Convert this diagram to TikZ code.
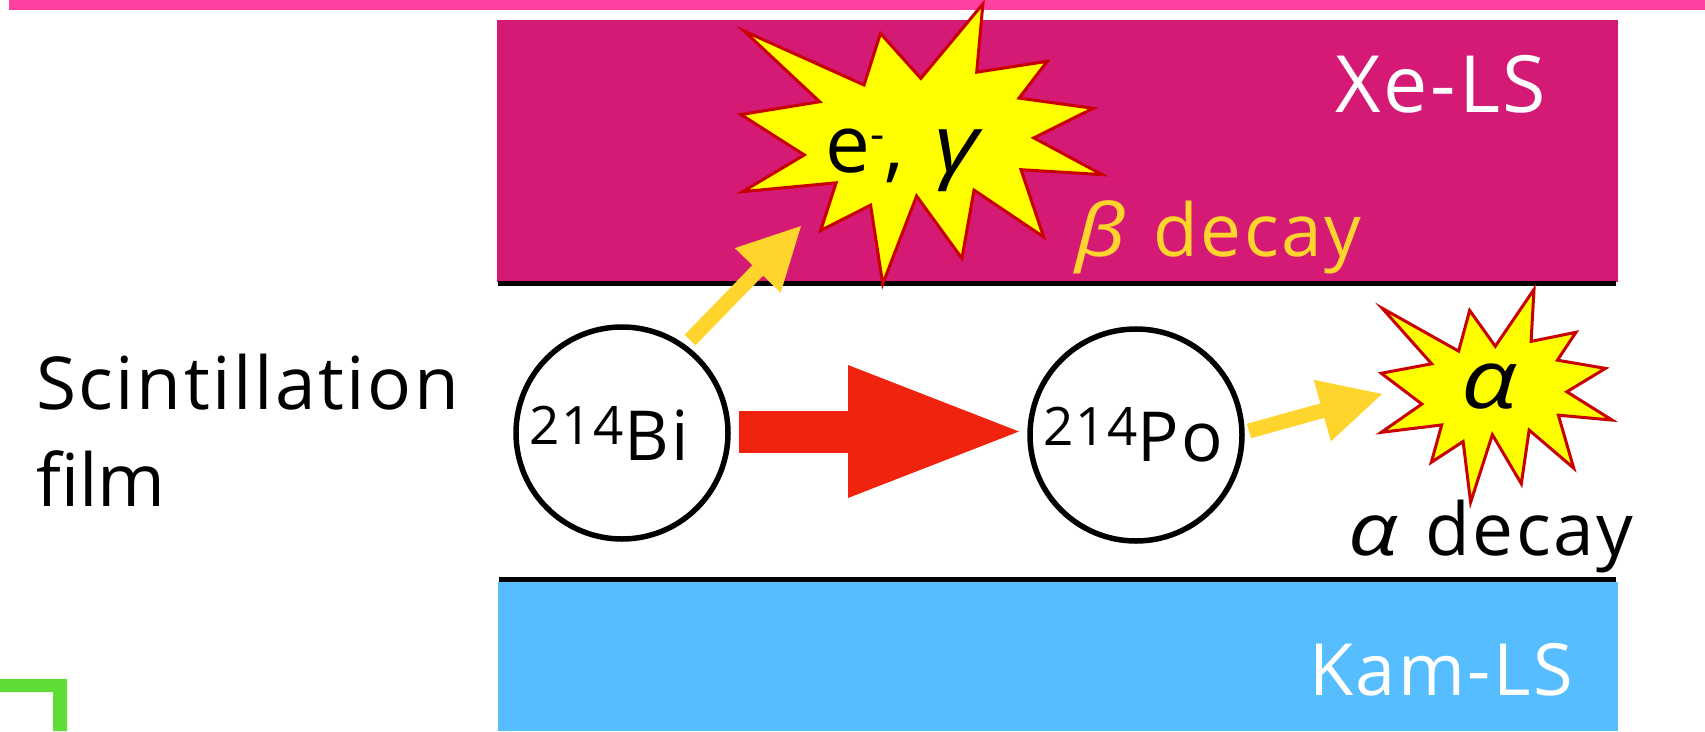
\documentclass[tikz,border=0pt]{standalone}
\usepackage{fontspec}
\setmainfont[LetterSpace=3.4]{Open Sans}
\newfontfamily\grk{Open Sans}
\newfontfamily\plain{Open Sans}
\usetikzlibrary{arrows.meta}
\definecolor{pinkbar}{RGB}{255,64,160}
\definecolor{xels}{RGB}{212,26,116}
\definecolor{kamls}{RGB}{86,189,255}
\definecolor{greenbar}{RGB}{96,220,54}
\definecolor{arrowy}{RGB}{255,212,45}
\definecolor{arrowr}{RGB}{240,36,14}
\definecolor{burstline}{RGB}{200,0,0}
\definecolor{burstfill}{RGB}{255,255,0}
\newcommand{\grkit}[1]{\scalebox{1.2}[1]{\grk\itshape #1}}
\newcommand{\nuclabel}[2]{\raisebox{16pt}{\fontsize{53}{53}\selectfont #1}#2}
\tikzset{
  nucleus/.style={circle,draw=black,fill=white,line width=5.5pt,minimum size=212pt,inner sep=0pt,font=\fontsize{69}{69}\selectfont},
  burst/.style={draw=burstline,fill=burstfill,line width=3pt,miter limit=20},
  lab/.style={inner sep=0pt,font=\fontsize{73}{73}\selectfont},
  yarrow/.style={draw=arrowy,line width=15pt,-{Triangle[length=62pt,width=64pt,line width=0pt]}},
  rarrow/.style={draw=arrowr,line width=42pt,-{Triangle[length=171pt,width=133pt,line width=0pt]}},
}
\begin{document}
\begin{tikzpicture}[x=1pt,y=-1pt]
\useasboundingbox (0,0) rectangle (1705,731);
\fill[pinkbar] (9,0) rectangle (1705,10);
\fill[greenbar] (0,679) -- (67,679) -- (67,731) -- (53,731) -- (53,692) -- (0,692) -- cycle;
\fill[xels] (497,20) rectangle (1618,282);
\fill[kamls] (498,582) rectangle (1618,731);
\draw[black,line width=5pt] (498,283) -- (1616,283);
\draw[black,line width=5pt] (499,579) -- (1616,579);
\node[lab,text=white,anchor=base,font=\fontsize{79}{79}\selectfont] (xe) at (1441,112) {Xe-LS};
\node[lab,text=white,anchor=base,font=\fontsize{72}{72}\selectfont] (kam) at (1441,695) {Kam-LS};
\node[lab,anchor=base west] (sc1) at (36,409) {Scintillation};
\node[lab,anchor=base west] (sc2) at (36,506) {\plain film};
\node[nucleus] (bi) at (622,433) {\nuclabel{214}{Bi}\rule{26pt}{0pt}};
\node[nucleus] (po) at (1136,435) {\nuclabel{214}{Po}\rule{5pt}{0pt}};
\path[burst,scale around={0.985:(910,150)}] (741.7,29.3) -- (863.3,84) -- (880,31.7) -- (921,77.3) -- (984,1.7) -- (977.7,71) -- (1049.3,60) -- (1020.7,97.3) -- (1096,107.7) -- (1035.7,137.7) -- (1105,175) -- (1022.7,170) -- (1045.7,238.3) -- (975,190.7) -- (962.7,260) -- (916.7,196.7) -- (882.3,286) -- (870,206) -- (819.3,231.7) -- (835,183.3) -- (740,192.3) -- (802.7,155) -- (738.3,114) -- (818.3,101) -- cycle;
\path[burst,scale around={0.975:(1495,395)}] (1379.3,306) -- (1457.7,350) -- (1469,308.3) -- (1495.3,345) -- (1535,286.7) -- (1532,340) -- (1578,330.7) -- (1559,359.3) -- (1608.3,367.7) -- (1568.7,391.7) -- (1615,420.7) -- (1560,415.7) -- (1575.7,470) -- (1530,431) -- (1522,486) -- (1492.3,435.7) -- (1470,505) -- (1462.3,442.7) -- (1429.7,464) -- (1440.3,425.7) -- (1378.3,433.3) -- (1420,404.3) -- (1378.3,372.7) -- (1430,363) -- cycle;
\node[lab,anchor=base west,font=\fontsize{80}{80}\selectfont] (em) at (825,172) {e\raisebox{23pt}{\fontsize{44}{44}\selectfont -},\hspace{31pt}\grkit{γ}};
\node[lab,anchor=base,font=\fontsize{82}{82}\selectfont] (al) at (1489,408) {\grkit{α}};
\node[lab,text=arrowy,anchor=base west] (bd) at (1075,256) {\grkit{β}\hspace{6pt} decay};
\node[lab,anchor=base west] (ad) at (1348,555) {\grkit{α}\hspace{6pt} decay};
\coordinate (a1s) at (690,340);
\coordinate (a1e) at (801,226);
\coordinate (a2s) at (1249,431);
\coordinate (a2e) at (1382,394);
\coordinate (rs) at (739,431.5);
\coordinate (re) at (1019,431.5);
\draw[yarrow] (a1s) -- (a1e);
\draw[yarrow] (a2s) -- (a2e);
\draw[rarrow] (rs) -- (re);
\end{tikzpicture}
\end{document}
